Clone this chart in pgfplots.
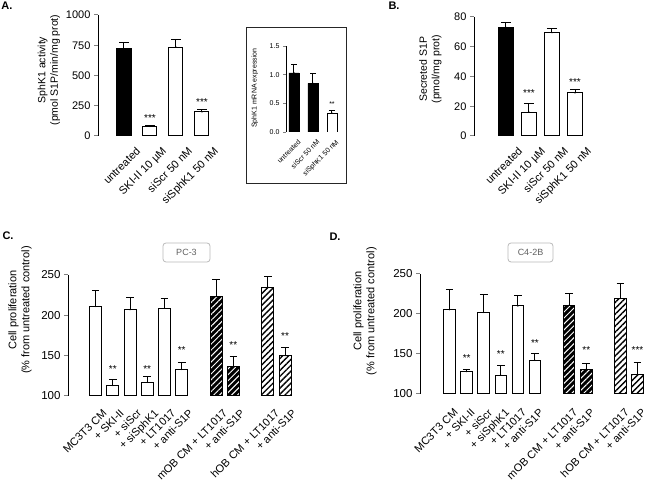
\documentclass[border=0pt]{standalone}
\usepackage{fontspec}
\setmainfont{Liberation Sans}
\usepackage{pgfplots}
\pgfplotsset{compat=1.18}
\usetikzlibrary{patterns.meta}

\tikzset{sig/.style={font=\fontsize{10}{12}\selectfont, yshift=-2pt}}
\pgfplotsset{
  gp/.style={
    scale only axis,
    axis y line*=left,
    axis x line*=bottom,
    x axis line style={draw=none},
    xtick style={draw=none},
    y axis line style={line width=1pt},
    ytick style={line width=1pt},
    tick align=outside,
    major tick length=4pt,
    minor tick num=0,
    /pgf/number format/assume math mode=true,
    /pgf/number format/1000 sep={},
    tick label style={font=\fontsize{11}{13}\selectfont},
    xticklabel style={rotate=45, anchor=north east},
    ylabel style={font=\fontsize{10.5}{12.5}\selectfont, align=center, anchor=center},
  },
  eb/.style={only marks, mark=*, mark size=0.01pt, black, line width=1pt,
    error bars/y dir=plus, error bars/y explicit,
    error bars/error bar style={line width=1pt, black},
    error bars/error mark=|,
    error bars/error mark options={line width=1pt, black, mark size=#1}},
  whitebar/.style={ybar, bar width=#1, draw=black, fill=white, line width=1pt},
  blackbar/.style={ybar, bar width=#1, draw=black, fill=black, line width=1pt},
  darkhatch/.style={ybar, bar width=#1, draw=black, line width=1pt,
    preaction={fill=black},
    pattern={Lines[angle=45,distance=4.2pt,line width=1pt]}, pattern color=white},
  lighthatch/.style={ybar, bar width=#1, draw=black, line width=1pt,
    preaction={fill=white},
    pattern={Lines[angle=45,distance=4.2pt,line width=1.4pt]}, pattern color=black},
}

\pgfplotstableread{
x y e
0 720 55
1 80 6
2 735 65
3 200 15
}\dataA
\pgfplotstableread{
x y e
0 1.03 0.15
1 0.85 0.17
2 0.33 0.04
}\dataI
\pgfplotstableread{
x y e
0 73 3
1 16 6
2 69.5 3
3 29 2
}\dataB
\pgfplotstableread{
x y e
0 211 20
1 113 7
2 207 15
3 117 7
4 209 12
5 133 8
7 223 21
8 136 13
10 235 13
11 150 10
}\dataC
\pgfplotstableread{
x y e
0 205.5 25.5
1 128 2.5
2 202 22
3 123.5 12.5
4 210 13
5 142 8.5
7 211 15
8 131 7.5
10 219.5 18.5
11 124 15.5
}\dataD

\begin{document}
\begin{tikzpicture}
\useasboundingbox (0pt,0pt) rectangle (645pt,484pt);

% panel letters
\node[font=\bfseries\fontsize{11}{13}\selectfont] at (7pt,478pt) {A.};
\node[font=\bfseries\fontsize{11}{13}\selectfont] at (394pt,478pt) {B.};
\node[font=\bfseries\fontsize{11}{13}\selectfont] at (8pt,248pt) {C.};
\node[font=\bfseries\fontsize{11}{13}\selectfont] at (335pt,247pt) {D.};

% ---------------- Panel A ----------------
\begin{axis}[gp, at={(98pt,348pt)}, anchor=south west,
  width=117pt, height=121pt,
  xmin=-1, xmax=3.5, ymin=0, ymax=1000,
  ytick={0,250,500,750,1000},
  xtick={0,1,2,3},
  xticklabels={untreated, SKI-II 10 µM, siScr 50 nM, siSphK1 50 nM},
  xticklabel style={xshift=7pt, yshift=-9pt},
  ylabel={SphK1 activity\\(pmol S1P/min/mg prot)},
  ylabel style={at={(axis description cs:-0.419,0.545)}}]
\addplot[blackbar=14pt] table[x=x, y=y, restrict expr to domain={\coordindex}{0:0}] {\dataA};
\addplot[whitebar=14pt] table[x=x, y=y, restrict expr to domain={\coordindex}{1:3}] {\dataA};
\addplot[eb=4.6pt] table[x=x, y=y, y error=e] {\dataA};
\node[sig] at (axis cs:1,165) {***};
\node[sig] at (axis cs:3,298) {***};
\end{axis}

% ---------------- Inset ----------------
\draw[line width=1pt, black!85] (246pt,300pt) rectangle (346pt,456pt);
\begin{axis}[gp, at={(286pt,352pt)}, anchor=south west,
  width=55.5pt, height=86pt,
  xmin=-0.42, xmax=2.5, ymin=0, ymax=1.5,
  ytick={0,0.5,1,1.5},
  yticklabel style={/pgf/number format/.cd, fixed, fixed zerofill, precision=1},
  tick label style={font=\fontsize{7}{8.5}\selectfont},
  xticklabel style={xshift=3pt, yshift=-2pt},
  major tick length=3pt,
  y axis line style={line width=0.8pt},
  ytick style={line width=0.8pt},
  xtick={0,1,2},
  xticklabels={untreated, siScr 50 nM, siSphK1 50 nM},
  ylabel={SphK1 mRNA expression},
  ylabel style={font=\fontsize{7}{8.5}\selectfont, at={(axis description cs:-0.56,0.51)}}]
\addplot[blackbar=10pt, line width=0.8pt] table[x=x, y=y, restrict expr to domain={\coordindex}{0:1}] {\dataI};
\addplot[whitebar=10pt, line width=0.8pt] table[x=x, y=y, restrict expr to domain={\coordindex}{2:2}] {\dataI};
\addplot[eb=2.8pt] table[x=x, y=y, y error=e] {\dataI};
\node[sig, font=\fontsize{7}{8.5}\selectfont, yshift=0.5pt] at (axis cs:2,0.506) {**};
\end{axis}

% ---------------- Panel B ----------------
\begin{axis}[gp, at={(474pt,348pt)}, anchor=south west,
  width=112.5pt, height=119pt,
  xmin=-1.39, xmax=3.5, ymin=0, ymax=80,
  ytick={0,20,40,60,80},
  xtick={0,1,2,3},
  xticklabels={untreated, SKI-II 10 µM, siScr 50 nM, siSphK1 50 nM},
  xticklabel style={xshift=7pt, yshift=-9pt},
  ylabel={Secreted S1P\\(pmol/mg prot)},
  ylabel style={at={(axis description cs:-0.387,0.56)}}]
\addplot[blackbar=15pt] table[x=x, y=y, restrict expr to domain={\coordindex}{0:0}] {\dataB};
\addplot[whitebar=15pt] table[x=x, y=y, restrict expr to domain={\coordindex}{1:3}] {\dataB};
\addplot[eb=5pt] table[x=x, y=y, y error=e] {\dataB};
\node[sig] at (axis cs:1,30.4) {***};
\node[sig] at (axis cs:3,37.6) {***};
\end{axis}

% ---------------- Panel C ----------------
\node[draw=gray!55, rounded corners=3pt, line width=0.8pt, text=gray!75!black,
  font=\fontsize{9}{11}\selectfont, minimum width=47pt, minimum height=19pt,
  inner sep=2pt] at (186.5pt,231.5pt) {PC-3};
\begin{axis}[gp, at={(68pt,88pt)}, anchor=south west,
  width=227.4pt, height=121pt,
  xmin=-1.6, xmax=11.6, ymin=100, ymax=250,
  ytick={100,150,200,250},
  tick label style={font=\fontsize{11.5}{13.5}\selectfont},
  xtick={0,1,2,3,4,5,7,8,10,11},
  xticklabels={MC3T3 CM, + SKI-II, + siScr, + siSphK1, + LT1017, + anti-S1P,
    mOB CM + LT1017, + anti-S1P, hOB CM + LT1017, + anti-S1P},
  xticklabel style={font=\fontsize{11}{13}\selectfont, xshift=2pt, yshift=-7pt},
  ylabel={Cell proliferation\\(\% from untreated control)},
  ylabel style={font=\fontsize{11}{13}\selectfont, at={(axis description cs:-0.211,0.71)}}]
\addplot[whitebar=12pt] table[x=x, y=y, restrict expr to domain={\coordindex}{0:5}] {\dataC};
\addplot[darkhatch=12pt] table[x=x, y=y, restrict expr to domain={\coordindex}{6:7}] {\dataC};
\addplot[lighthatch=12pt] table[x=x, y=y, restrict expr to domain={\coordindex}{8:9}] {\dataC};
\addplot[eb=3.8pt] table[x=x, y=y, y error=e] {\dataC};
\node[sig] at (axis cs:1,136) {**};
\node[sig] at (axis cs:3,136) {**};
\node[sig] at (axis cs:5,159.5) {**};
\node[sig] at (axis cs:8,165.7) {**};
\node[sig] at (axis cs:11,177) {**};
\end{axis}

% ---------------- Panel D ----------------
\node[draw=gray!55, rounded corners=3pt, line width=0.8pt, text=gray!75!black,
  font=\fontsize{9}{11}\selectfont, minimum width=45pt, minimum height=19pt,
  inner sep=2pt] at (530.5pt,231.5pt) {C4-2B};
\begin{axis}[gp, at={(420pt,90pt)}, anchor=south west,
  width=225.2pt, height=120pt,
  xmin=-1.73, xmax=11.45, ymin=100, ymax=250,
  ytick={100,150,200,250},
  tick label style={font=\fontsize{11.5}{13.5}\selectfont},
  xtick={0,1,2,3,4,5,7,8,10,11},
  xticklabels={MC3T3 CM, + SKI-II, + siScr, + siSphK1, + LT1017, + anti-S1P,
    mOB CM + LT1017, + anti-S1P, hOB CM + LT1017, + anti-S1P},
  xticklabel style={font=\fontsize{11}{13}\selectfont, xshift=-1pt, yshift=-6pt},
  ylabel={Cell proliferation\\(\% from untreated control)},
  ylabel style={font=\fontsize{11}{13}\selectfont, at={(axis description cs:-0.244,0.69)}}]
\addplot[whitebar=11.5pt] table[x=x, y=y, restrict expr to domain={\coordindex}{0:5}] {\dataD};
\addplot[darkhatch=11.5pt] table[x=x, y=y, restrict expr to domain={\coordindex}{6:7}] {\dataD};
\addplot[lighthatch=11.5pt] table[x=x, y=y, restrict expr to domain={\coordindex}{8:9}] {\dataD};
\addplot[eb=3.8pt] table[x=x, y=y, y error=e] {\dataD};
\node[sig] at (axis cs:1,147.5) {**};
\node[sig] at (axis cs:3,152.5) {**};
\node[sig] at (axis cs:5,166) {**};
\node[sig] at (axis cs:8,157.5) {**};
\node[sig] at (axis cs:11,157.5) {***};
\end{axis}
\end{tikzpicture}
\end{document}
